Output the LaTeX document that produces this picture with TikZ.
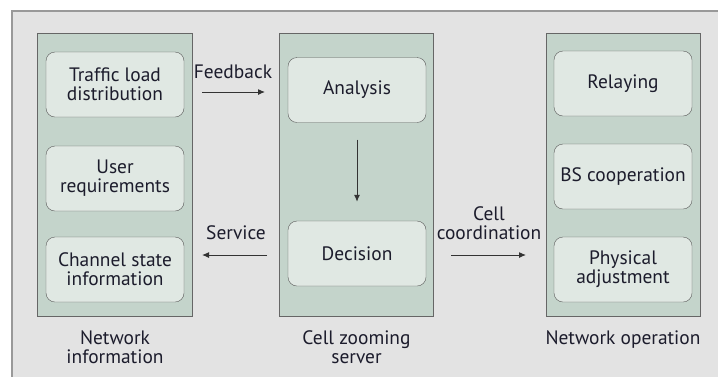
\documentclass[tikz,border=0pt]{standalone}
\usepackage{fontspec}
\setmainfont{PT Sans}
\usetikzlibrary{positioning,arrows.meta}
\definecolor{panel}{HTML}{E3E3E3}
\definecolor{lanefill}{HTML}{C4D4CB}
\definecolor{boxfill}{HTML}{E0E8E3}
\definecolor{ink}{HTML}{1C1C2C}
\tikzset{
	lane/.style={draw=black!60, fill=lanefill, line width=1bp, minimum width=154bp, minimum height=283bp, inner sep=0pt},
	block/.style={draw=black!65, fill=boxfill, rounded corners=9bp, minimum width=138bp, minimum height=65bp, inner sep=0pt, align=center, text=ink, font=\fontsize{19.5}{19}\selectfont},
	caption/.style={align=center, text=ink, inner sep=0pt, font=\fontsize{19.5}{19}\selectfont},
	flow/.style={draw=black!80, line width=1bp, -{Latex[length=7bp,width=6bp]}}
}
\begin{document}
\begin{tikzpicture}[x=1bp,y=-1bp]

	\useasboundingbox (0,0) rectangle (718,376);
	\fill [panel, draw=black!40, line width=1.2bp] (12,11) rectangle (730,390);

	\node [lane] (netinfo) at (115,174.5) {};
	\node [lane] (server) at (356.5,174.5) {};
	\node [lane] (netop) at (623,174.5) {};

	\node [block] (traffic) at (115,84.5) {Traffic load\\distribution};
	\node [block] (user) at (115,178.5) {User\\requirements};
	\node [block] (channel) at (115,269.5) {Channel state\\information};

	\node [block] (analysis) at (357,90) {Analysis};
	\node [block] (decision) at (357,253.5) {Decision};

	\node [block] (relaying) at (623,83.5) {Relaying};
	\node [block] (bscoop) at (623,176.5) {BS cooperation};
	\node [block] (physical) at (623,269.5) {Physical\\adjustment};

	\node [caption, below=14bp of netinfo] (netinfolabel) {Network\\information};
	\node [caption, below=14bp of server] (serverlabel) {Cell zooming\\server};
	\node [caption, below=14bp of netop] (netoplabel) {Network operation};

	\coordinate (fbstart) at (202,92);
	\coordinate (fbend) at (265,92);
	\coordinate (svstart) at (267,255);
	\coordinate (svend) at (202,255);
	\coordinate (ccstart) at (451,255);
	\coordinate (ccend) at (526,255);

	\node [caption] (feedback) at (233,72) {Feedback};
	\node [caption] (service) at (236,233) {Service};
	\node [caption] (cellcoord) at (489,223) {Cell\\coordination};

	\draw [flow] (fbstart) -- (fbend);
	\draw [flow] (svstart) -- (svend);
	\draw [flow] (ccstart) -- (ccend);
	\draw [flow, shorten <=17bp, shorten >=19bp] (analysis) -- (decision);

\end{tikzpicture}
\end{document}
